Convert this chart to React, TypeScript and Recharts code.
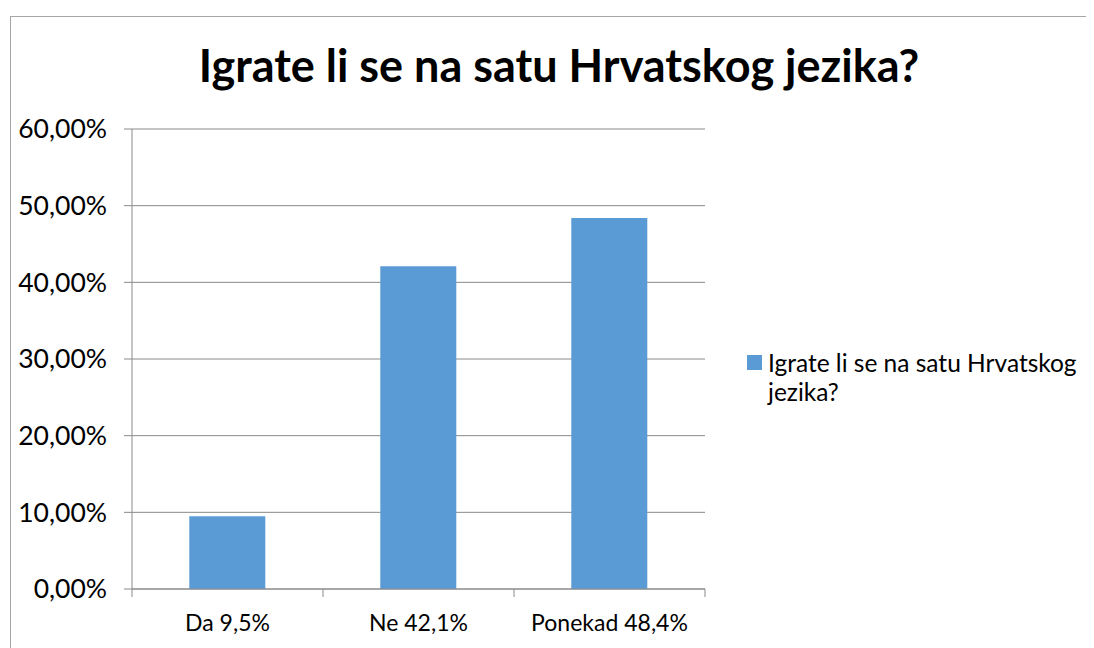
import { BarChart, Bar, XAxis, YAxis, CartesianGrid } from "recharts";

// categories and values
const categories = ["Da 9,5%", "Ne 42,1%", "Ponekad 48,4%"];
const shares = [0.095, 0.421, 0.484];
const yTicks = [0, 0.1, 0.2, 0.3, 0.4, 0.5, 0.6];
const seriesName = "Igrate li se na satu Hrvatskog jezika?";
const title = "Igrate li se na satu Hrvatskog jezika?";

const data = categories.map((name, i) => ({ name, value: shares[i] }));

const FONT = "Lato, 'Open Sans', sans-serif";
const GRID = "#8a8a8a";
const BAR = "#5b9bd5";

const W = 1083;
const H = 631;
const M = { top: 112, right: 389, bottom: 9, left: 0 };
const Y_W = 121;
const X_H = 50;
const TICK = 8;
const TICK_GAP = 18;

const fmtPct = (v: number) => (v * 100).toFixed(2).replace(".", ",") + "%";

// x tick: label at the category centre, tick marks at the category borders
function CategoryTick(props: any) {
  const { x, y, payload, index } = props;
  const band = (W - M.left - M.right - Y_W) / categories.length;
  const lineTop = y - TICK_GAP - TICK;
  const half = band / 2;
  return (
    <g>
      <line x1={x - half} x2={x - half} y1={lineTop} y2={lineTop + TICK} stroke={GRID} />
      {index === categories.length - 1 && (
        <line x1={x + half} x2={x + half} y1={lineTop} y2={lineTop + TICK} stroke={GRID} />
      )}
      <text x={x} y={y} dy="0.71em" textAnchor="middle" fill="#000" fontSize={23} fontFamily={FONT}>
        {payload.value}
      </text>
    </g>
  );
}

function ValueTick(props: any) {
  const { x, y, payload } = props;
  return (
    <text x={x} y={y} dy="0.355em" textAnchor="end" fill="#000" fontSize={26.5} fontFamily={FONT}>
      {fmtPct(payload.value)}
    </text>
  );
}

export default function App() {
  return (
    <div style={{ paddingLeft: 2, paddingTop: 8 }}>
      <div style={{ position: "relative", width: W, height: H, border: "1px solid #a6a6a6", borderRight: "none", borderBottom: "none", background: "#fff" }}>
        <div
          style={{
            position: "absolute",
            left: 0,
            width: 1096,
            top: 21,
            textAlign: "center",
            fontFamily: FONT,
            fontWeight: 700,
            fontSize: 45,
            lineHeight: "54px",
            color: "#000",
          }}
        >
          {title}
        </div>
        <BarChart width={W} height={H} data={data} margin={M} barCategoryGap="30%">
          <CartesianGrid vertical={false} stroke={GRID} />
          <XAxis
            dataKey="name"
            height={X_H}
            axisLine={{ stroke: GRID }}
            tickLine={false}
            tickSize={TICK}
            tickMargin={TICK_GAP}
            tick={<CategoryTick />}
            interval={0}
          />
          <YAxis
            width={Y_W}
            domain={[0, 0.6]}
            ticks={yTicks}
            axisLine={{ stroke: GRID }}
            tickLine={{ stroke: GRID }}
            tickSize={TICK}
            tickMargin={17}
            tick={<ValueTick />}
          />
          <Bar dataKey="value" name={seriesName} fill={BAR} isAnimationActive={false} />
        </BarChart>
        <div
          style={{
            position: "absolute",
            left: 736,
            top: 331,
            display: "flex",
            alignItems: "flex-start",
            fontFamily: FONT,
            fontSize: 24.5,
            lineHeight: "29px",
            color: "#000",
          }}
        >
          <span style={{ width: 15, height: 15, background: BAR, marginTop: 7, marginRight: 6, flex: "none" }} />
          <span style={{ width: 330 }}>{seriesName}</span>
        </div>
      </div>
    </div>
  );
}
